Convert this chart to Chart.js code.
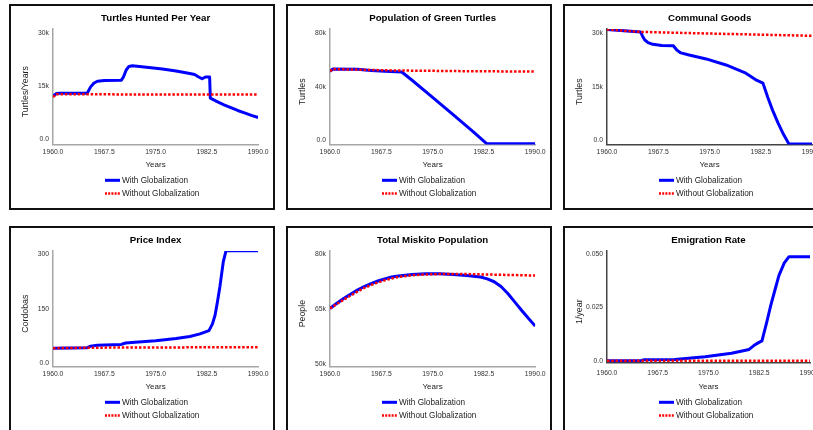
<!DOCTYPE html>
<html>
<head>
<meta charset="utf-8">
<script src="https://cdn.jsdelivr.net/npm/chart.js@4.4.0/dist/chart.umd.min.js"></script>
<style>
  html, body { margin: 0; padding: 0; background: #fff; overflow: hidden; }
  body { width: 813px; height: 430px; position: relative; }
  .panel { position: absolute; width: 262px; height: 202px; border: 2px solid #111; background: #fff; }
  .panel canvas { display: block; }
</style>
</head>
<body>
<div class="panel" style="left:9px;top:4px"><canvas id="hunted" width="262" height="202"></canvas></div>
<div class="panel" style="left:286px;top:4px"><canvas id="turtles" width="262" height="202"></canvas></div>
<div class="panel" style="left:563px;top:4px"><canvas id="goods" width="262" height="202"></canvas></div>
<div class="panel" style="left:9px;top:226px"><canvas id="price" width="262" height="202"></canvas></div>
<div class="panel" style="left:286px;top:226px"><canvas id="miskito" width="262" height="202"></canvas></div>
<div class="panel" style="left:563px;top:226px"><canvas id="emigration" width="262" height="202"></canvas></div>
<script>
// ---- datos ----
const xTicks = [1960, 1967.5, 1975, 1982.5, 1990];
const xTickLabels = ['1960.0', '1967.5', '1975.0', '1982.5', '1990.0'];
const seriesNames = ['With Globalization', 'Without Globalization'];

// Turtles Hunted Per Year
const huntedWithYears = [1960, 1960.5, 1961, 1965, 1965.5, 1966, 1966.5, 1967.5, 1970, 1970.3, 1970.7, 1971.1, 1971.6, 1974, 1976, 1978, 1980, 1980.7, 1981.3, 1981.8, 1982.3, 1982.9, 1983, 1984, 1985, 1986, 1987, 1988, 1989, 1990];
const huntedWith = [12200, 12900, 13000, 13000, 14800, 15900, 16400, 16600, 16700, 17600, 19600, 20600, 20800, 20300, 19900, 19300, 18600, 18300, 17600, 17100, 17600, 17600, 11600, 10600, 9700, 8900, 8100, 7400, 6700, 6100];
const huntedWithoutYears = [1960, 1960.5, 1975, 1990];
const huntedWithout = [11900, 12700, 12650, 12600];
const huntedTicks = [0, 15000, 30000];
const huntedTickLabels = ['0.0', '15k', '30k'];

// Population of Green Turtles
const turtlesWithYears = [1960, 1960.4, 1964, 1966, 1968, 1970.5, 1972, 1975, 1978, 1981, 1982.9, 1990];
const turtlesWith = [51500, 53200, 53000, 52200, 51500, 51000, 44800, 32000, 19000, 5900, -2800, -2800];
const turtlesWithoutYears = [1960, 1960.4, 1965, 1970, 1980, 1990];
const turtlesWithout = [51500, 53200, 52600, 52100, 51600, 51300];
const turtlesTicks = [0, 40000, 80000];
const turtlesTickLabels = ['0.0', '40k', '80k'];

// Communal Goods
const goodsWithYears = [1960, 1962, 1964.9, 1965.2, 1965.5, 1966, 1966.7, 1968, 1969.7, 1970.2, 1970.8, 1972, 1974.5, 1977.4, 1980.3, 1981.7, 1982.8, 1983.5, 1984.2, 1985, 1985.8, 1986.6, 1990];
const goodsWith = [31100, 30800, 30400, 29200, 28200, 27400, 26900, 26600, 26500, 25300, 24500, 23900, 22800, 21100, 18800, 17000, 16000, 12000, 8400, 4800, 1600, -1100, -1100];
const goodsWithoutYears = [1960, 1962, 1965, 1975, 1990];
const goodsWithout = [31100, 30800, 30400, 29950, 29300];
const goodsTicks = [0, 15000, 30000];
const goodsTickLabels = ['0.0', '15k', '30k'];

// Price Index
const priceWithYears = [1960, 1965, 1965.5, 1966.5, 1970, 1970.6, 1972, 1975, 1978, 1980, 1981.5, 1982.8, 1983.3, 1983.7, 1984.05, 1984.4, 1984.9, 1985.3, 1990];
const priceWith = [41.5, 43, 47, 50, 52, 56, 58, 62, 68.5, 74, 81, 90, 108, 133, 170, 211, 280, 310, 310];
const priceWithoutYears = [1960, 1965, 1990];
const priceWithout = [41.5, 43, 44.5];
const priceTicks = [0, 150, 300];
const priceTickLabels = ['0.0', '150', '300'];

// Total Miskito Population
const miskitoWithYears = [1960, 1961, 1962, 1963, 1964, 1965, 1966, 1967, 1968, 1969, 1970, 1972, 1974, 1976, 1978, 1980, 1982, 1983, 1984, 1985, 1986, 1987, 1988, 1989, 1990];
const miskitoWith = [65200, 66600, 67900, 69100, 70200, 71200, 72000, 72700, 73300, 73800, 74100, 74500, 74700, 74700, 74500, 74200, 73800, 73300, 72500, 71200, 69300, 67000, 64700, 62500, 60400];
const miskitoWithoutYears = [1960, 1961, 1962, 1963, 1964, 1965, 1966, 1967, 1968, 1969, 1970, 1972, 1974, 1976, 1980, 1985, 1990];
const miskitoWithout = [65200, 66400, 67600, 68700, 69800, 70800, 71600, 72300, 72900, 73400, 73800, 74300, 74500, 74600, 74600, 74400, 74200];
const miskitoTicks = [50000, 65000, 80000];
const miskitoTickLabels = ['50k', '65k', '80k'];

// Emigration Rate
const emigWithYears = [1960, 1965, 1965.5, 1970, 1974.5, 1978.4, 1981, 1981.7, 1982.4, 1982.9, 1983.6, 1984.2, 1984.8, 1985.4, 1986.2, 1986.9, 1990];
const emigWith = [0, 0, 0.0005, 0.0006, 0.0019, 0.0035, 0.0053, 0.0071, 0.0085, 0.0093, 0.018, 0.026, 0.033, 0.040, 0.046, 0.0489, 0.0489];
const emigWithoutYears = [1960, 1990];
const emigWithout = [0, 0];
const emigTicks = [0, 0.025, 0.05];
const emigTickLabels = ['0.0', '0.025', '0.050'];

// ---- dibujo ----
Chart.defaults.font.family = '"Liberation Sans", Arial, Helvetica, sans-serif';
Chart.defaults.color = '#333';

const toPoints = (xs, ys) => xs.map((x, i) => ({ x: x, y: ys[i] }));

// leyenda apilada, como en el original (dos filas alineadas a la izquierda)
const stackedLegend = {
    id: 'stackedLegend',
    afterDraw(chart) {
        const ctx = chart.ctx;
        const rows = [chart.data.datasets[1], chart.data.datasets[0]];
        ctx.save();
        ctx.font = '8.2px "Liberation Sans", Arial, sans-serif';
        ctx.textBaseline = 'middle';
        ctx.fillStyle = '#222';
        rows.forEach((ds, i) => {
            const y = 174.3 + i * 13.2;
            ctx.beginPath();
            ctx.strokeStyle = ds.borderColor;
            ctx.lineWidth = ds.borderWidth;
            ctx.setLineDash(ds.borderDash ? [2, 1.2] : []);
            ctx.moveTo(94, y);
            ctx.lineTo(109, y);
            ctx.stroke();
            ctx.fillText(ds.label, 111, y + 0.5);
        });
        ctx.restore();
    }
};

function makeChart(id, p) {
    const axisColor = p.axisColor || '#a6a6a6';
    const bottomShift = p.bottomShift || 0;
    new Chart(document.getElementById(id), {
        type: 'line',
        data: {
            datasets: [
                {
                    label: seriesNames[1],
                    data: toPoints(p.withoutYears, p.without),
                    borderColor: '#ff0000',
                    borderWidth: 2.5,
                    borderDash: [2.5, 1.8],
                    order: 0
                },
                {
                    label: seriesNames[0],
                    data: toPoints(p.withYears, p.with),
                    borderColor: '#0000ff',
                    borderWidth: 3,
                    borderJoinStyle: 'round',
                    order: 1
                }
            ]
        },
        options: {
            responsive: false,
            animation: false,
            devicePixelRatio: 1,
            events: [],
            elements: { point: { radius: 0 }, line: { tension: 0, fill: false } },
            layout: { padding: { left: 0, right: 14.8, top: 0, bottom: 38.7 } },
            plugins: {
                legend: { display: false },
                tooltip: { enabled: false },
                title: {
                    display: true,
                    text: p.title,
                    fullSize: false,
                    color: '#000',
                    font: { size: 9.7, weight: 'bold', lineHeight: 1.2 },
                    padding: { top: 6.8, bottom: 4.6 }
                }
            },
            scales: {
                x: {
                    type: 'linear',
                    bounds: 'data',
                    min: 1960,
                    max: 1990,
                    grid: { display: false, drawTicks: false },
                    border: { display: true, color: axisColor, width: 1.5 },
                    afterBuildTicks: s => { s.ticks = xTicks.map(v => ({ value: v })); },
                    afterFit: s => { s.height = 24.8 + bottomShift; },
                    ticks: {
                        autoSkip: false,
                        maxRotation: 0,
                        padding: 3.6 + bottomShift - 1 * (bottomShift > 0),
                        color: '#333',
                        font: { size: 6.8 },
                        callback: (v, i) => xTickLabels[i]
                    },
                    title: {
                        display: true,
                        text: 'Years',
                        color: '#222',
                        font: { size: 8, lineHeight: 1.2 },
                        padding: { top: 0, bottom: 0 }
                    }
                },
                y: {
                    type: 'linear',
                    bounds: 'data',
                    min: p.min,
                    max: p.max,
                    grid: { display: false, drawTicks: false },
                    border: { display: true, color: axisColor, width: 1.5 },
                    afterBuildTicks: s => { s.ticks = p.ticks.map(v => ({ value: v })); },
                    afterFit: s => { s.width = 42; },
                    ticks: {
                        padding: 4,
                        color: '#333',
                        font: { size: 6.8 },
                        callback: (v, i) => p.tickLabels[i]
                    },
                    title: {
                        display: true,
                        text: p.yTitle + '    ',
                        color: '#222',
                        font: { size: 8.8, lineHeight: 1.2 },
                        padding: { top: 9.7, bottom: 0 }
                    }
                }
            }
        },
        plugins: [stackedLegend]
    });
}

makeChart('hunted', {
    title: 'Turtles Hunted Per Year', yTitle: 'Turtles/Years',
    withYears: huntedWithYears, with: huntedWith, withoutYears: huntedWithoutYears, without: huntedWithout,
    ticks: huntedTicks, tickLabels: huntedTickLabels, min: -1560, max: 31220
});
makeChart('turtles', {
    title: 'Population of Green Turtles', yTitle: 'Turtles',
    withYears: turtlesWithYears, with: turtlesWith, withoutYears: turtlesWithoutYears, without: turtlesWithout,
    ticks: turtlesTicks, tickLabels: turtlesTickLabels, min: -3370, max: 83200
});
makeChart('goods', {
    title: 'Communal Goods', yTitle: 'Turtles',
    withYears: goodsWithYears, with: goodsWith, withoutYears: goodsWithoutYears, without: goodsWithout,
    ticks: goodsTicks, tickLabels: goodsTickLabels, min: -1270, max: 31210, axisColor: '#444'
});
makeChart('price', {
    title: 'Price Index', yTitle: 'Cordobas',
    withYears: priceWithYears, with: priceWith, withoutYears: priceWithoutYears, without: priceWithout,
    ticks: priceTicks, tickLabels: priceTickLabels, min: -8.8, max: 309.1
});
makeChart('miskito', {
    title: 'Total Miskito Population', yTitle: 'People',
    withYears: miskitoWithYears, with: miskitoWith, withoutYears: miskitoWithoutYears, without: miskitoWithout,
    ticks: miskitoTicks, tickLabels: miskitoTickLabels, min: 49320, max: 80900
});
makeChart('emigration', {
    title: 'Emigration Rate', yTitle: '1/year',
    withYears: emigWithYears, with: emigWith, withoutYears: emigWithoutYears, without: emigWithout,
    ticks: emigTicks, tickLabels: emigTickLabels, min: -0.00085, max: 0.05155, axisColor: '#444', bottomShift: 4
});
</script>
</body>
</html>
